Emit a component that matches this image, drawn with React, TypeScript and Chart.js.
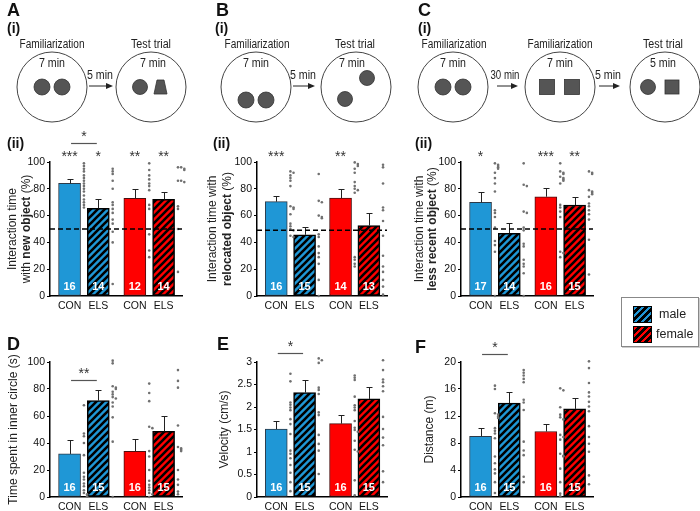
import React, { useEffect, useRef } from "react";
import { Chart, registerables } from "chart.js";

Chart.register(...registerables);

const FONT = "'Liberation Sans', Arial, Helvetica, sans-serif";
const BLUE = "#1f97d6";
const RED = "#ff0000";
const DOT = "#707070";

// ---------- shared categories ----------
const groupLabels = ["CON", "ELS", "CON", "ELS"];
const groupPositions = [1, 2, 3.27, 4.27];
const X_MIN = 0.32;
const X_MAX = 4.91;

// ---------- A(ii): new object ----------
const newObjMean = [84, 65.4, 72.9, 72.1];
const newObjSem = [3, 7, 6.9, 5.5];
const newObjN = [16, 14, 12, 14];
const newObjStars = ["***", "*", "**", "**"];
const newObjConMale = [99, 97, 95, 93, 90, 88, 86, 84, 82, 80, 78, 75, 72, 70, 68, 66];
const newObjElsMale = [95, 93, 91, 86, 80, 70, 68, 65, 62, 57, 54, 48, 40, 9];
const newObjConFemale = [99, 94, 90, 87, 84, 82, 79, 68, 65, 46, 34, 29];
const newObjElsFemale = [96, 96, 95, 95, 94, 86, 86, 85, 85, 67, 65, 50, 18, -15];

// ---------- B(ii): relocated object ----------
const relocMean = [70.4, 45.7, 73.1, 52.6];
const relocSem = [4.4, 6.1, 6.7, 9.1];
const relocN = [16, 15, 14, 13];
const relocStars = ["***", "", "**", ""];
const relocConMale = [93, 92, 90, 88, 86, 82, 67, 66, 65, 61, 54, 52, 50, 49, 45, 44];
const relocElsMale = [91, 71, 70, 60, 59, 58, 46, 44, 37, 32, 29, 24, 12, 0, -17];
const relocConFemale = [99.7, 98.5, 97, 95, 92, 85, 82, 80, 79, 77, 29, 27, 24, 22];
const relocElsFemale = [98, 96, 84, 66, 64, 56, 45, 30, 22, 18, 12, 7, 1];

// ---------- C(ii): less recent object ----------
const recentMean = [69.9, 46.8, 74.1, 67.9];
const recentSem = [7.5, 7.9, 6.2, 6.2];
const recentN = [17, 14, 16, 15];
const recentStars = ["*", "", "***", "**"];
const recentConMale = [99, 98, 97, 96, 95, 92, 88, 84, 78, 64, 62, 59, 51, 41, 38, 33, 0];
const recentElsMale = [99, 83, 82, 63, 62, 51, 49, 39, 37, 27, 24, 22, 17, 0];
const recentConFemale = [99, 93, 92, 91, 89, 88, 87, 86, 84, 68, 66, 63, 59, 33, 32, 29];
const recentElsFemale = [93, 92, 91, 79, 78, 77, 76, 74, 69, 67, 64, 61, 57, 42, 16];

// ---------- D: time in inner circle ----------
const innerMean = [31.9, 71.4, 33.8, 48.6];
const innerSem = [10.1, 8.1, 9.4, 11.6];
const innerN = [16, 15, 16, 15];
const innerConMale = [128, 103, 68, 47, 45, 40, 31, 18, 15, 13, 10, 8, 5, 3, 2, 0.5];
const innerElsMale = [125, 101, 99, 82, 81, 80, 78, 76, 74, 73, 70, 67, 59, 41, 0];
const innerConFemale = [103, 84, 77, 71, 52, 51, 34, 30, 20, 12, 9, 7, 5, 3, 2, 0];
const innerElsFemale = [133, 116, 94, 86, 81, 53, 37, 36, 35, 34, 20, 13, 9, 4, 2];

// ---------- E: velocity ----------
const velMean = [1.51, 2.32, 1.63, 2.18];
const velSem = [0.18, 0.27, 0.19, 0.27];
const velN = [16, 15, 16, 15];
const velConMale = [2.74, 2.57, 2.1, 2.05, 1.99, 1.93, 1.73, 1.62, 1.4, 1.03, 0.96, 0.86, 0.71, 0.54, 0.33, 0.13];
const velElsMale = [3.95, 3.86, 3.14, 3.08, 3.04, 2.98, 2.43, 2.38, 2.29, 1.88, 1.82, 1.38, 1.18, 1.03, 0.51];
const velConFemale = [2.7, 2.65, 2.6, 2.23, 2.04, 1.99, 1.93, 1.69, 1.54, 1.49, 1.45, 1.25, 1.05, 1.01, 0.37, 0.04];
const velElsFemale = [3.48, 3.38, 3.31, 3.04, 2.82, 2.61, 2.55, 2.46, 2.35, 1.78, 1.51, 1.32, 1.15, 0.57, 0.33];

// ---------- F: distance ----------
const distMean = [9.0, 13.9, 9.7, 13.05];
const distSem = [1.2, 1.6, 1.1, 1.65];
const distN = [16, 15, 16, 15];
const distConMale = [16.5, 16.0, 12.4, 12.2, 11.9, 11.7, 10.2, 9.8, 9.4, 8.7, 6.0, 5.0, 4.1, 3.5, 2.2, 0.6];
const distElsMale = [23.8, 23.1, 18.8, 18.4, 18.0, 17.5, 17.0, 14.4, 14.0, 12.9, 8.2, 6.9, 6.2, 3.0, 2.2];
const distConFemale = [16.1, 15.8, 13.3, 12.2, 11.8, 11.5, 9.2, 8.9, 8.5, 6.4, 6.1, 6.0, 4.2, 2.2, 0.5, 0.1];
const distElsFemale = [20.9, 20.1, 19.1, 16.9, 15.5, 14.9, 14.1, 13.4, 12.7, 10.5, 8.9, 7.9, 6.7, 3.2, 1.9];

type Seg = { t: string; b?: boolean };

interface PanelSpec {
  key: string;
  left: number;
  top: number;
  width: number;
  height: number;
  padTop: number;
  axisW: number;
  padRight: number;
  axisH: number;
  yMax: number;
  yStep: number;
  means: number[];
  sems: number[];
  ns: number[];
  dots: number[][];
  stars?: string[];
  bracket?: { value: number; label: string };
  chance?: number;
  title: Seg[][];
  titleX: number[];
}

function makeHatch(color: string): CanvasPattern | string {
  const s = 7;
  const c = document.createElement("canvas");
  c.width = s;
  c.height = s;
  const g = c.getContext("2d");
  if (!g) return color;
  g.fillStyle = color;
  g.fillRect(0, 0, s, s);
  g.strokeStyle = "#000";
  g.lineWidth = 2.6;
  g.beginPath();
  g.moveTo(-1, s + 1);
  g.lineTo(s + 1, -1);
  g.moveTo(-2, 2);
  g.lineTo(2, -2);
  g.moveTo(s - 2, s + 2);
  g.lineTo(s + 2, s - 2);
  g.stroke();
  return g.createPattern(c, "repeat") || color;
}

function Panel({ spec }: { spec: PanelSpec }) {
  const ref = useRef<HTMLCanvasElement>(null);
  useEffect(() => {
    const canvas = ref.current;
    if (!canvas) return;
    const fills = [BLUE, makeHatch(BLUE), RED, makeHatch(RED)];
    const barData = spec.means.map((m, i) => ({ x: groupPositions[i], y: m }));
    const dotData: { x: number; y: number }[] = [];
    spec.dots.forEach((vals, gi) => {
      const placed: number[] = [];
      const thr = spec.yMax * 0.016;
      vals.forEach((v) => {
        const k = placed.filter((p) => Math.abs(p - v) < thr).length;
        placed.push(v);
        dotData.push({ x: groupPositions[gi] + 0.5 + k * 0.11, y: v });
      });
    });

    const overlay = {
      id: "overlay" + spec.key,
      afterDatasetsDraw(chart: any) {
        const { ctx, chartArea } = chart;
        const x = chart.scales.x;
        const y = chart.scales.y;
        ctx.save();
        // error bars
        ctx.strokeStyle = "#222";
        ctx.lineWidth = 1;
        spec.means.forEach((m, i) => {
          const px = Math.round(x.getPixelForValue(groupPositions[i])) + 0.5;
          const y0 = y.getPixelForValue(m);
          const y1 = Math.round(y.getPixelForValue(m + spec.sems[i])) + 0.5;
          ctx.beginPath();
          ctx.moveTo(px, y0);
          ctx.lineTo(px, y1);
          ctx.moveTo(px - 3, y1);
          ctx.lineTo(px + 3, y1);
          ctx.stroke();
        });
        // chance level
        if (spec.chance !== undefined) {
          const py = y.getPixelForValue(spec.chance);
          ctx.setLineDash([5, 3]);
          ctx.lineWidth = 1.5;
          ctx.strokeStyle = "#000";
          ctx.beginPath();
          ctx.moveTo(chartArea.left, py);
          ctx.lineTo(chartArea.right, py);
          ctx.stroke();
          ctx.setLineDash([]);
        }
        // n labels
        ctx.fillStyle = "#fff";
        ctx.font = `bold 11px ${FONT}`;
        ctx.textAlign = "center";
        ctx.textBaseline = "middle";
        spec.ns.forEach((n, i) => {
          const px = x.getPixelForValue(groupPositions[i]);
          ctx.fillText(String(n), px, chartArea.bottom - 9.5);
        });
        // stars
        ctx.fillStyle = "#333";
        ctx.font = `14px ${FONT}`;
        ctx.textBaseline = "alphabetic";
        if (spec.stars) {
          spec.stars.forEach((s, i) => {
            if (!s) return;
            const px = x.getPixelForValue(groupPositions[i]);
            ctx.fillText(s, px, chartArea.top - 1.5);
          });
        }
        if (spec.bracket) {
          const by = Math.round(y.getPixelForValue(spec.bracket.value)) + 0.5;
          const x0 = x.getPixelForValue(groupPositions[0]) + 1.5;
          const x1 = x.getPixelForValue(groupPositions[1]) - 1.5;
          ctx.strokeStyle = "#555";
          ctx.lineWidth = 1.2;
          ctx.beginPath();
          ctx.moveTo(x0, by);
          ctx.lineTo(x1, by);
          ctx.stroke();
          ctx.fillText(spec.bracket.label, (x0 + x1) / 2, by - 2.5);
        }
        ctx.restore();
      },
      afterDraw(chart: any) {
        const { ctx, chartArea } = chart;
        const cy = (chartArea.top + chartArea.bottom) / 2;
        ctx.save();
        ctx.fillStyle = "#222";
        ctx.textBaseline = "middle";
        ctx.textAlign = "left";
        spec.title.forEach((line, li) => {
          const widths = line.map((sg) => {
            ctx.font = `${sg.b ? "bold " : ""}12px ${FONT}`;
            return ctx.measureText(sg.t).width;
          });
          const total = widths.reduce((a, b) => a + b, 0);
          ctx.save();
          ctx.translate(spec.titleX[li], cy);
          ctx.rotate(-Math.PI / 2);
          let cx = -total / 2;
          line.forEach((sg, si) => {
            ctx.font = `${sg.b ? "bold " : ""}12px ${FONT}`;
            ctx.fillText(sg.t, cx, 0);
            cx += widths[si];
          });
          ctx.restore();
        });
        ctx.restore();
      },
    };

    const tickFont = { family: FONT, size: 10.5 };
    const chart = new Chart(canvas, {
      type: "bar",
      data: {
        datasets: [
          {
            type: "scatter",
            data: dotData,
            pointRadius: 1.3,
            pointBackgroundColor: DOT,
            pointBorderWidth: 0,
            clip: false,
            order: 0,
          } as any,
          {
            type: "bar",
            data: barData,
            backgroundColor: fills,
            borderColor: ["#2d3a48", "#000", "#4a1010", "#000"],
            borderWidth: [1, 1.5, 1, 1.5],
            barThickness: 22,
            borderSkipped: false,
            order: 1,
          } as any,
        ],
      },
      options: {
        responsive: false,
        animation: false,
        events: [],
        layout: { padding: { top: spec.padTop, right: spec.padRight, left: 0, bottom: 0 } },
        plugins: { legend: { display: false }, tooltip: { enabled: false } },
        scales: {
          x: {
            type: "linear",
            min: X_MIN,
            max: X_MAX,
            offset: false,
            grid: { display: false, drawTicks: false },
            border: { display: true, color: "#000", width: 1.5 },
            afterBuildTicks: (s: any) => {
              s.ticks = groupPositions.map((v) => ({ value: v }));
            },
            afterFit: (s: any) => {
              s.height = spec.axisH;
            },
            ticks: {
              autoSkip: false,
              maxRotation: 0,
              padding: 4,
              color: "#111",
              font: tickFont,
              callback: (_v: any, i: number) => groupLabels[i],
            },
          },
          y: {
            type: "linear",
            min: 0,
            max: spec.yMax,
            grid: { display: true, drawOnChartArea: false, drawTicks: true, tickLength: 3, color: "#000" },
            border: { display: true, color: "#000", width: 1.5 },
            afterFit: (s: any) => {
              s.width = spec.axisW;
            },
            ticks: {
              stepSize: spec.yStep,
              padding: 2,
              color: "#111",
              font: tickFont,
              callback: (v: any) => String(Math.round(Number(v) * 100) / 100),
            },
          },
        },
      } as any,
      plugins: [overlay as any],
    });
    return () => chart.destroy();
  }, []);
  return (
    <canvas
      ref={ref}
      width={spec.width}
      height={spec.height}
      style={{ position: "absolute", left: spec.left, top: spec.top, width: spec.width, height: spec.height }}
    />
  );
}

const topRow = { top: 125, height: 195, padTop: 37, axisH: 24, width: 195 };
const bottomRow = { top: 330, height: 181, padTop: 32, axisH: 14, width: 195 };

const panels: PanelSpec[] = [
  {
    key: "A", left: 0, ...topRow, axisW: 50, padRight: 13, yMax: 100, yStep: 20,
    means: newObjMean, sems: newObjSem, ns: newObjN,
    dots: [newObjConMale, newObjElsMale, newObjConFemale, newObjElsFemale],
    stars: newObjStars, bracket: { value: 114, label: "*" }, chance: 50,
    title: [[{ t: "Interaction time" }], [{ t: "with " }, { t: "new object", b: true }, { t: " (%)" }]],
    titleX: [13, 27],
  },
  {
    key: "B", left: 205, ...topRow, axisW: 52, padRight: 13, yMax: 100, yStep: 20,
    means: relocMean, sems: relocSem, ns: relocN,
    dots: [relocConMale, relocElsMale, relocConFemale, relocElsFemale],
    stars: relocStars, chance: 49,
    title: [[{ t: "Interaction time with" }], [{ t: "relocated object", b: true }, { t: " (%)" }]],
    titleX: [8, 23],
  },
  {
    key: "C", left: 410, ...topRow, axisW: 51, padRight: 12, yMax: 100, yStep: 20,
    means: recentMean, sems: recentSem, ns: recentN,
    dots: [recentConMale, recentElsMale, recentConFemale, recentElsFemale],
    stars: recentStars, chance: 50,
    title: [[{ t: "Interaction time with" }], [{ t: "less recent object", b: true }, { t: " (%)" }]],
    titleX: [10, 23],
  },
  {
    key: "D", left: 0, ...bottomRow, axisW: 50, padRight: 13, yMax: 100, yStep: 20,
    means: innerMean, sems: innerSem, ns: innerN,
    dots: [innerConMale, innerElsMale, innerConFemale, innerElsFemale],
    bracket: { value: 86.4, label: "**" },
    title: [[{ t: "Time spent in inner circle (s)" }]],
    titleX: [14],
  },
  {
    key: "E", left: 205, ...bottomRow, axisW: 52, padRight: 13, yMax: 3, yStep: 0.5,
    means: velMean, sems: velSem, ns: velN,
    dots: [velConMale, velElsMale, velConFemale, velElsFemale],
    bracket: { value: 3.2, label: "*" },
    title: [[{ t: "Velocity (cm/s)" }]],
    titleX: [20],
  },
  {
    key: "F", left: 410, ...bottomRow, axisW: 51, padRight: 12, yMax: 20, yStep: 4,
    means: distMean, sems: distSem, ns: distN,
    dots: [distConMale, distElsMale, distConFemale, distElsFemale],
    bracket: { value: 21.2, label: "*" },
    title: [[{ t: "Distance (m)" }]],
    titleX: [20],
  },
];

const OBJ = "#555";
const OBJ_STROKE = "#333";

function Arena({ cx, cy }: { cx: number; cy: number }) {
  return <circle cx={cx} cy={cy} r={35} fill="#fff" stroke="#444" strokeWidth={1} />;
}
function Disc({ cx, cy, r = 8 }: { cx: number; cy: number; r?: number }) {
  return <circle cx={cx} cy={cy} r={r} fill={OBJ} stroke={OBJ_STROKE} strokeWidth={0.8} />;
}
function Square({ cx, cy, s = 15 }: { cx: number; cy: number; s?: number }) {
  return <rect x={cx - s / 2} y={cy - s / 2} width={s} height={s} fill={OBJ} stroke={OBJ_STROKE} strokeWidth={0.8} />;
}
function Arrow({ x0, x1, y }: { x0: number; x1: number; y: number }) {
  return (
    <g>
      <line x1={x0} y1={y} x2={x1 - 5} y2={y} stroke="#222" strokeWidth={1} />
      <polygon points={`${x1},${y} ${x1 - 7},${y - 3} ${x1 - 7},${y + 3}`} fill="#222" />
    </g>
  );
}
function Label({ x, y, text, len, size = 12 }: { x: number; y: number; text: string; len?: number; size?: number }) {
  return (
    <text
      x={x}
      y={y}
      textAnchor="middle"
      fontFamily={FONT}
      fontSize={size}
      fill="#222"
      {...(len ? { textLength: len, lengthAdjust: "spacingAndGlyphs" } : {})}
    >
      {text}
    </text>
  );
}
function Letter({ x, y, text, size = 18 }: { x: number; y: number; text: string; size?: number }) {
  return (
    <text x={x} y={y} fontFamily={FONT} fontWeight="bold" fontSize={size} fill="#111">
      {text}
    </text>
  );
}

function Diagrams() {
  return (
    <svg width={700} height={511} style={{ position: "absolute", left: 0, top: 0, pointerEvents: "none" }}>
      {/* A */}
      <Letter x={7} y={16} text="A" />
      <Letter x={7} y={33} text="(i)" size={14} />
      <Label x={52} y={48} text="Familiarization" len={65} />
      <Arena cx={52} cy={87} />
      <Label x={52} y={67} text="7 min" len={26} />
      <Disc cx={42} cy={87} />
      <Disc cx={62} cy={87} />
      <Label x={100} y={79} text="5 min" len={26} />
      <Arrow x0={89} x1={113} y={86} />
      <Label x={151} y={48} text="Test trial" len={40} />
      <Arena cx={151} cy={87} />
      <Label x={153} y={67} text="7 min" len={26} />
      <Disc cx={140} cy={87} r={7.5} />
      <polygon points="157,80 164,80 167,94 154,94" fill={OBJ} stroke={OBJ_STROKE} strokeWidth={0.8} />
      <Letter x={7} y={148} text="(ii)" size={14} />

      {/* B */}
      <Letter x={216} y={16} text="B" />
      <Letter x={215} y={33} text="(i)" size={14} />
      <Label x={257} y={48} text="Familiarization" len={65} />
      <Arena cx={256} cy={87} />
      <Label x={256} y={67} text="7 min" len={26} />
      <Disc cx={246} cy={100} />
      <Disc cx={266} cy={100} />
      <Label x={303} y={79} text="5 min" len={26} />
      <Arrow x0={293} x1={315} y={86} />
      <Label x={355} y={48} text="Test trial" len={40} />
      <Arena cx={356} cy={87} />
      <Label x={352} y={67} text="7 min" len={26} />
      <Disc cx={367} cy={78} r={7.5} />
      <Disc cx={345} cy={99} r={7.5} />
      <Letter x={213} y={148} text="(ii)" size={14} />

      {/* C */}
      <Letter x={418} y={16} text="C" />
      <Letter x={418} y={33} text="(i)" size={14} />
      <Label x={454} y={48} text="Familiarization" len={65} />
      <Arena cx={453} cy={87} />
      <Label x={453} y={67} text="7 min" len={26} />
      <Disc cx={443} cy={87} />
      <Disc cx={463} cy={87} />
      <Label x={505} y={79} text="30 min" len={29} />
      <Arrow x0={497} x1={518} y={86} />
      <Label x={560} y={48} text="Familiarization" len={65} />
      <Arena cx={560} cy={87} />
      <Label x={560} y={67} text="7 min" len={26} />
      <Square cx={547} cy={87} />
      <Square cx={572} cy={87} />
      <Label x={608} y={79} text="5 min" len={26} />
      <Arrow x0={599} x1={620} y={86} />
      <Label x={663} y={48} text="Test trial" len={40} />
      <Arena cx={665} cy={87} />
      <Label x={663} y={67} text="5 min" len={26} />
      <Disc cx={648} cy={87} r={7.5} />
      <Square cx={672} cy={87} s={14} />
      <Letter x={415} y={148} text="(ii)" size={14} />

      <Letter x={7} y={350} text="D" />
      <Letter x={217} y={350} text="E" />
      <Letter x={415} y={353} text="F" />
    </svg>
  );
}

function Legend() {
  const patch = (color: string) => ({
    width: 19,
    height: 17,
    border: "1px solid #000",
    boxSizing: "border-box" as const,
    background: `repeating-linear-gradient(135deg, ${color} 0px, ${color} 2.5px, #000 2.5px, #000 5px)`,
  });
  const row = { display: "flex", alignItems: "center", height: 20 };
  const txt = { fontFamily: FONT, fontSize: 12.5, color: "#222", marginLeft: 6 };
  return (
    <div
      style={{
        position: "absolute",
        left: 621,
        top: 297,
        width: 78,
        height: 50,
        boxSizing: "border-box",
        border: "1px solid #888",
        boxShadow: "1px 1px 0 #ccc",
        background: "#fff",
        padding: "6px 0 0 11px",
      }}
    >
      <div style={row}>
        <div style={patch(BLUE)} />
        <span style={{ ...txt, marginLeft: 7 }}>male</span>
      </div>
      <div style={row}>
        <div style={patch(RED)} />
        <span style={{ ...txt, marginLeft: 4 }}>female</span>
      </div>
    </div>
  );
}

export default function App() {
  return (
    <div
      style={{
        position: "absolute",
        left: 0,
        top: 0,
        width: 700,
        height: 511,
        overflow: "hidden",
        background: "#fff",
      }}
    >
      {panels.map((p) => (
        <Panel key={p.key} spec={p} />
      ))}
      <Diagrams />
      <Legend />
    </div>
  );
}
